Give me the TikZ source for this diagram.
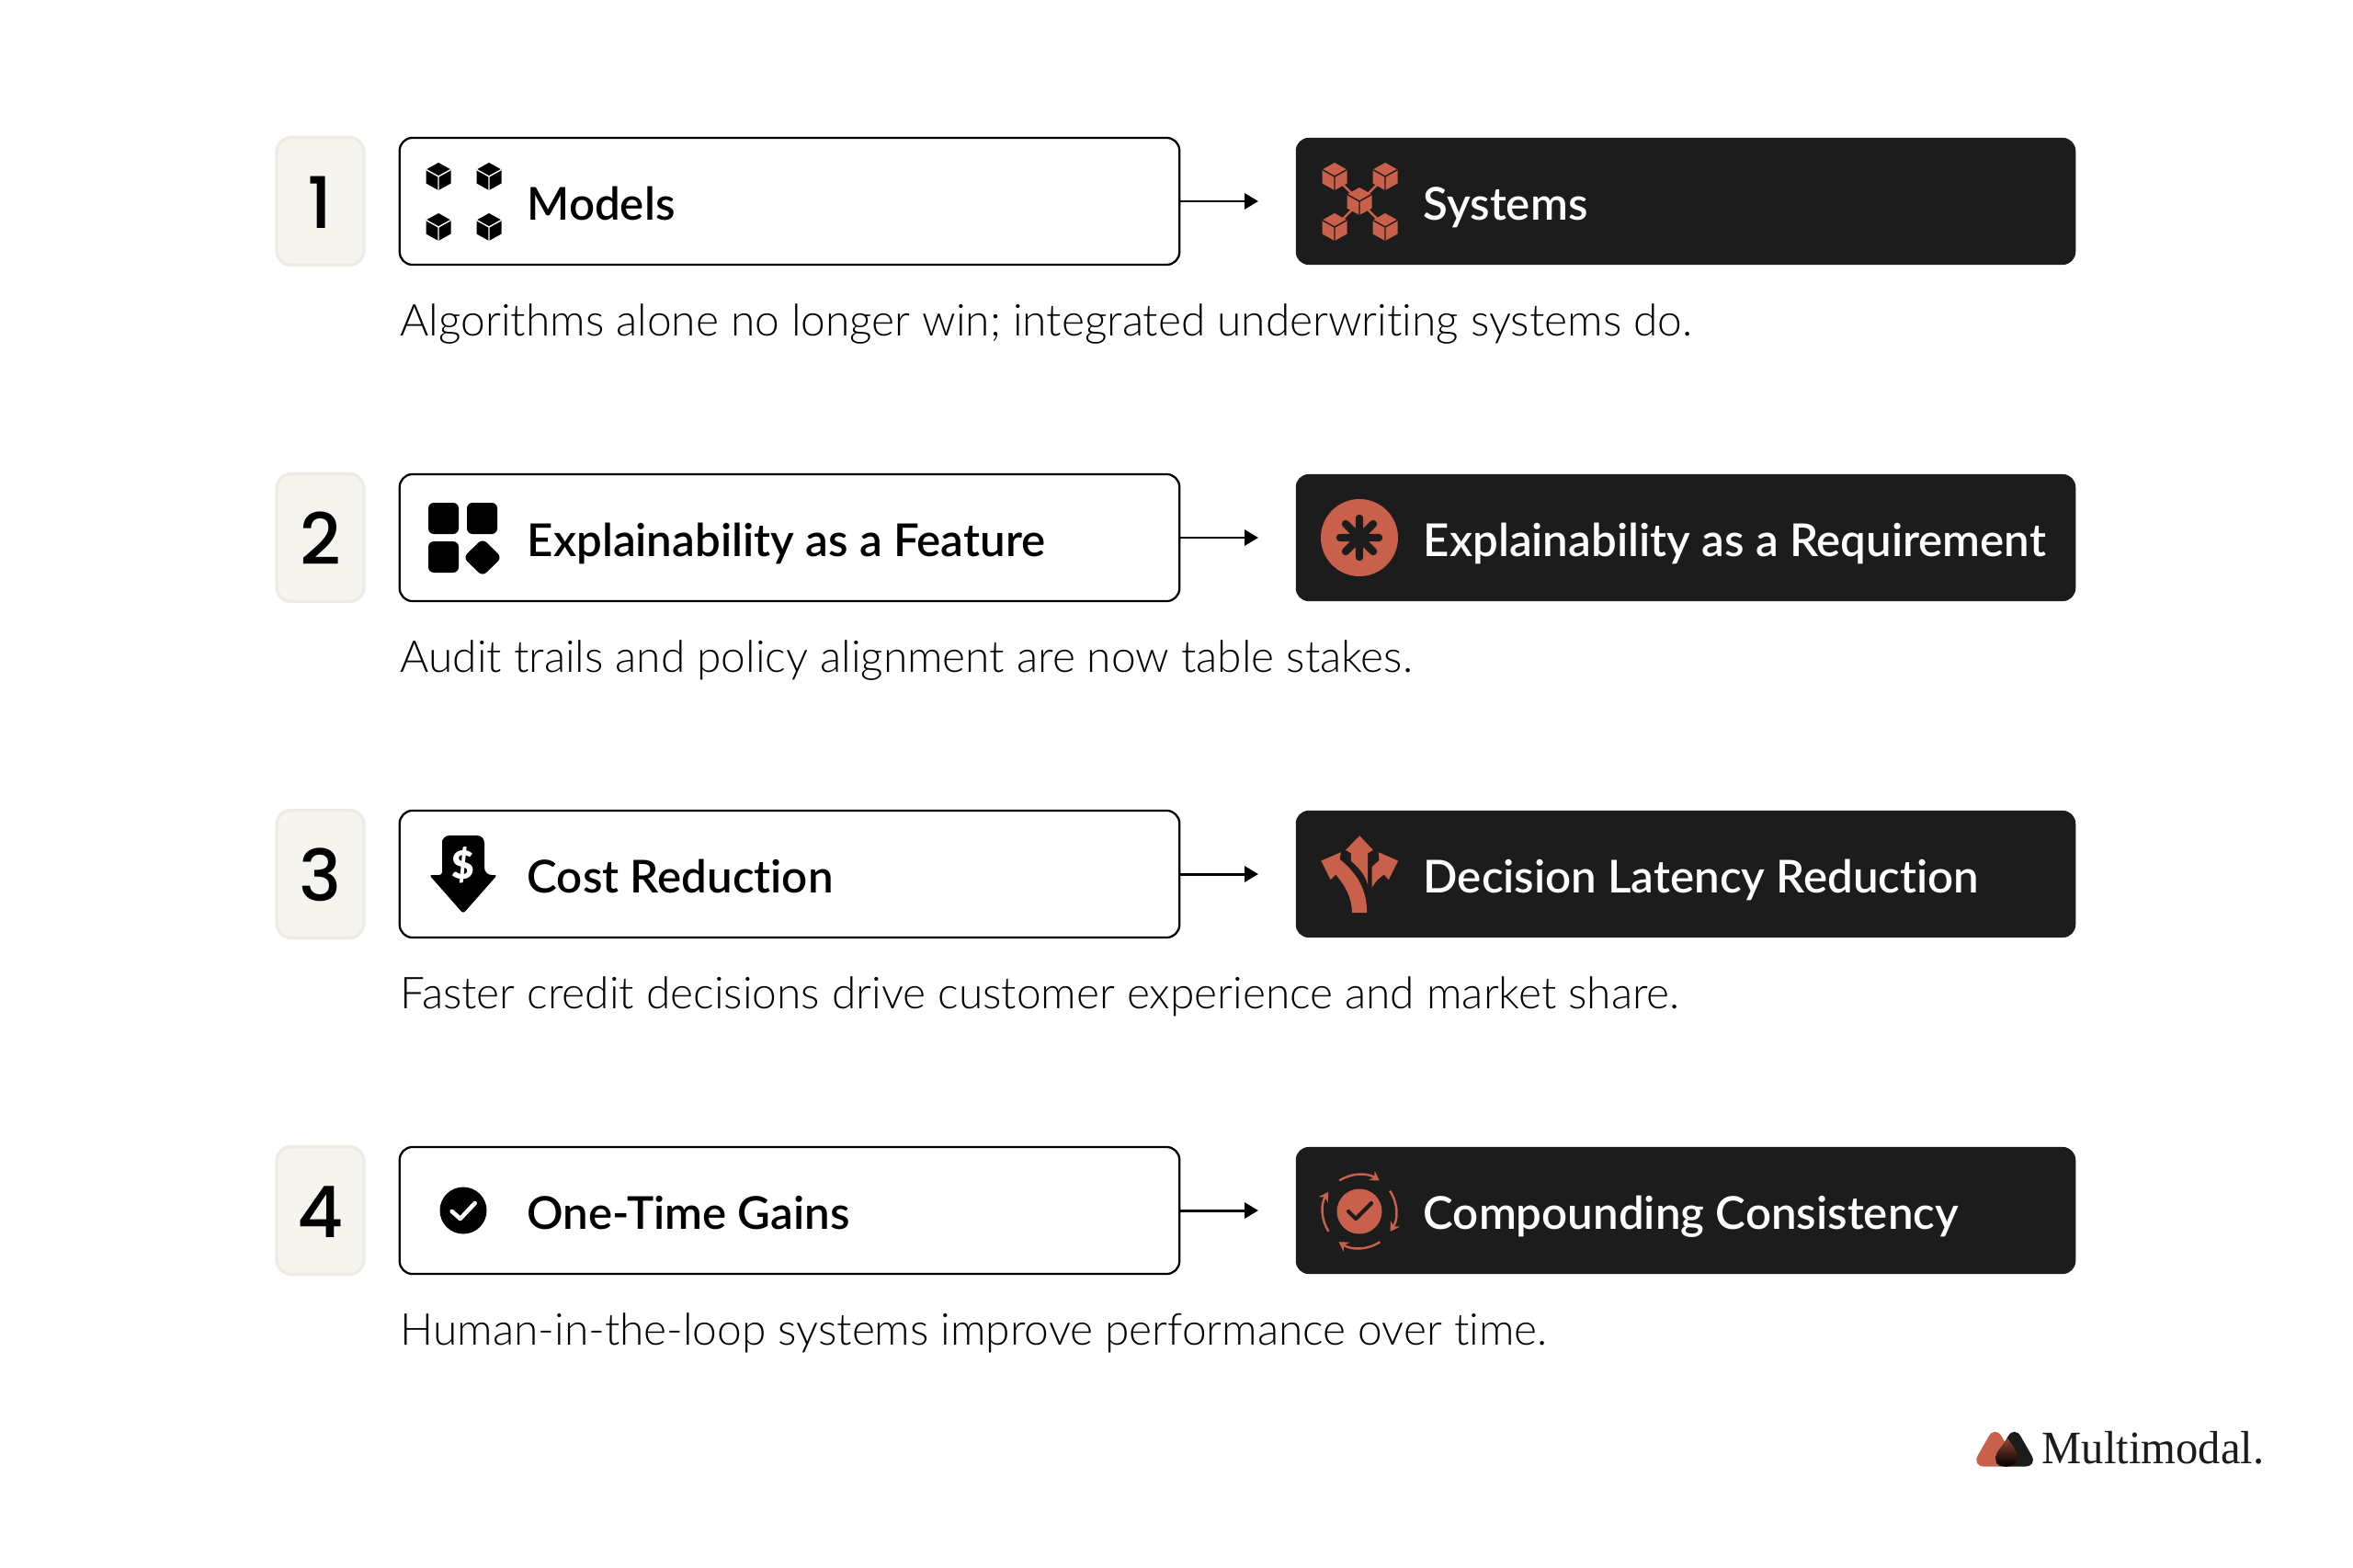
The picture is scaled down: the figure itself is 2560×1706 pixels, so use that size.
\documentclass[tikz,border=0pt]{standalone}
\usepackage{fontspec}
\usetikzlibrary{arrows.meta}
\setmainfont{Lato}
\newfontfamily\descfont[Ligatures=NoCommon]{Lato Light}
\newfontfamily\headfont[Ligatures=NoCommon]{Lato Semibold}
\newfontfamily\numfont{Poppins Medium}
\newfontfamily\logofont[FakeStretch=0.96]{Liberation Serif}
\definecolor{inkdark}{HTML}{1C1C1C}
\definecolor{clay}{HTML}{C8604C}
\definecolor{paper}{HTML}{F5F4EF}
\definecolor{paperline}{HTML}{ECEBE4}
% one small cube: x, y, body colour, edge colour
\newcommand{\cubeicon}[4]{%
  \fill[#3] (#1,#2-15) -- (#1+13.5,#2-7.5) -- (#1+13.5,#2+7.5) -- (#1,#2+15) -- (#1-13.5,#2+7.5) -- (#1-13.5,#2-7.5) -- cycle;
  \draw[#4, line width=0.4pt] (#1-13.5,#2-7.5) -- (#1,#2) -- (#1+13.5,#2-7.5) (#1,#2) -- (#1,#2+15);
}
\begin{document}
\begin{tikzpicture}[
  x=0.01cm, y=-0.01cm,
  >={Triangle[length=1.5mm,width=1.7mm]},
  numbox/.style={rounded corners=1.6mm, draw=paperline, line width=0.9pt, fill=paper,
                 minimum width=9.5mm, minimum height=13.9mm, inner sep=0pt, text height=17pt, text depth=0pt,
                 font=\numfont\fontsize{22}{24}\selectfont, text=black},
  lightbox/.style={rounded corners=1.4mm, draw=black, line width=0.65pt, fill=white,
                   minimum width=84.8mm, minimum height=13.8mm, inner sep=0pt},
  darkbox/.style={rounded corners=1.4mm, fill=inkdark,
                  minimum width=84.8mm, minimum height=13.8mm, inner sep=0pt},
  headtxt/.style={anchor=base west, inner sep=0pt, font=\headfont\fontsize{14}{16}\selectfont},
  lighthead/.style={headtxt, text=black},
  darkhead/.style={headtxt, text=white},
  desc/.style={anchor=base west, inner sep=0pt, font=\descfont\fontsize{13.6}{16}\selectfont, text=black},
  flow/.style={->, line width=0.85pt, draw=black, shorten >=4mm},
  cyclearc/.style={clay, line width=0.7pt, -{Stealth[length=1mm,width=1.2mm]}},
]
\useasboundingbox (0,0) rectangle (2560,1706);
\fill[white] (0,0) rectangle (2560,1706);

% ---- Row 1 : models -> systems ----
\node[numbox]   (num1)  at (348.5,219) {1};
\node[lightbox] (left1) at (859,219)   {};
\node[darkbox]  (right1) at (1834,219) {};
\node[lighthead] (lefttxt1)  at (573,239.5)  {Models};
\node[darkhead]  (righttxt1) at (1548,239.5) {Systems};
\node[desc]      (desc1)     at (435,366)  {Algorithms alone no longer win; integrated underwriting systems do.};
\draw[flow] (left1) -- (right1);
\cubeicon{477}{192}{black}{white}
\cubeicon{532}{192}{black}{white}
\cubeicon{477}{247}{black}{white}
\cubeicon{532}{247}{black}{white}
\draw[clay, line width=0.7pt] (1452,192) -- (1507,247) (1507,192) -- (1452,247);
\cubeicon{1452}{192}{clay}{inkdark}
\cubeicon{1507}{192}{clay}{inkdark}
\cubeicon{1479}{219}{clay}{inkdark}
\cubeicon{1452}{247}{clay}{inkdark}
\cubeicon{1507}{247}{clay}{inkdark}

% ---- Row 2 : explainability ----
\node[numbox]   (num2)  at (348.5,585) {2};
\node[lightbox] (left2) at (859,585)   {};
\node[darkbox]  (right2) at (1834,585) {};
\node[lighthead] (lefttxt2)  at (573,605.5)  {Explainability as a Feature};
\node[darkhead]  (righttxt2) at (1548,605.5) {Explainability as a Requirement};
\node[desc]      (desc2)     at (435,731)  {Audit trails and policy alignment are now table stakes.};
\draw[flow] (left2) -- (right2);
\fill[black, rounded corners=0.6mm] (466,547) rectangle (499,581);
\fill[black, rounded corners=0.6mm] (508,547) rectangle (541,581);
\fill[black, rounded corners=0.6mm] (466,589) rectangle (499,623);
\fill[black, rounded corners=0.6mm] (525,586) -- (546,606.5) -- (525,627) -- (504,606.5) -- cycle;
\fill[clay] (1479,585) circle (42);
\draw[inkdark, line width=2.4pt, line cap=round]
  (1479,564) -- (1479,606) (1458,585) -- (1500,585) (1464,570) -- (1494,600) (1494,570) -- (1464,600);

% ---- Row 3 : cost vs latency ----
\node[numbox]   (num3)  at (348.5,951) {3};
\node[lightbox] (left3) at (859,951)   {};
\node[darkbox]  (right3) at (1834,951) {};
\node[lighthead] (lefttxt3)  at (573,971.5)  {Cost Reduction};
\node[darkhead]  (righttxt3) at (1548,971.5) {Decision Latency Reduction};
\node[desc]      (desc3)     at (435,1097) {Faster credit decisions drive customer experience and market share.};
\draw[flow] (left3) -- (right3);
\fill[black, rounded corners=0.3mm] (481,952) -- (481,916) [rounded corners=0.8mm] -- (481,909) -- (527,909) -- (527,952)
  [rounded corners=0.3mm] -- (541,952) -- (504,994) -- (467,952) -- cycle;
\node[text=white, inner sep=0pt, font=\headfont\bfseries\fontsize{12}{14}\selectfont] (dollar) at (504,941) {\$};
\begin{scope}[shift={(1410,880)}, x=0.00333cm, y=-0.00333cm]
  \fill[clay] (183,340) .. controls (183,290) and (160,250) .. (130,215) -- (113,232) -- (82,170) -- (147,142)
    -- (143,165) .. controls (205,215) and (232,270) .. (232,340) -- cycle;
  \fill[clay] (208,88) -- (252,135) -- (235,145) -- (235,250) .. controls (225,210) and (200,190) .. (180,170) -- (180,145) -- (162,135) -- cycle;
  \fill[clay] (334,170) -- (303,232) -- (288,215) .. controls (272,225) and (258,240) .. (248,258)
    -- (248,190) -- (272,168) -- (270,142) -- cycle;
\end{scope}

% ---- Row 4 : gains vs consistency ----
\node[numbox]   (num4)  at (348.5,1317) {4};
\node[lightbox] (left4) at (859,1317)   {};
\node[darkbox]  (right4) at (1834,1317) {};
\node[lighthead] (lefttxt4)  at (573,1337.5)  {One-Time Gains};
\node[darkhead]  (righttxt4) at (1548,1337.5) {Compounding Consistency};
\node[desc]      (desc4)     at (435,1463)  {Human-in-the-loop systems improve performance over time.};
\draw[flow] (left4) -- (right4);
\fill[black] (504,1317) circle (25.5);
\draw[white, line width=1.3pt, line cap=round, line join=round] (491.7,1318) -- (500.7,1326) -- (516.7,1309);
\fill[clay] (1479,1318) circle (24.5);
\draw[inkdark, line width=1.2pt, line cap=round, line join=round] (1467,1318) -- (1475,1326) -- (1492,1309);
\draw[cyclearc] (1479,1318) ++(-123:40) arc[start angle=-123, end angle=-57, radius=40];
\draw[cyclearc] (1479,1318) ++(-34:40) arc[start angle=-34, end angle=33, radius=40];
\draw[cyclearc] (1479,1318) ++(56:40) arc[start angle=56, end angle=124, radius=40];
\draw[cyclearc] (1479,1318) ++(147:40) arc[start angle=147, end angle=212, radius=40];

% ---- Logo ----
\begin{scope}[shift={(2130,1530)}, x=0.00333cm, y=-0.00333cm]
  \fill[clay, rounded corners=1.4mm] (122,62) -- (200,197) -- (45,197) -- cycle;
  \fill[inkdark, rounded corners=1.4mm] (185,62) -- (262,197) -- (108,197) -- cycle;
  \shade[top color=clay!70!black, bottom color=black] (163,105) .. controls (180,130) and (196,150) .. (196,165)
    .. controls (196,185) and (180,197) .. (160,197) .. controls (140,197) and (124,185) .. (124,165) .. controls (124,150) and (146,130) .. (163,105) -- cycle;
\end{scope}
\node[anchor=base west, inner sep=0pt, text=inkdark, font=\logofont\fontsize{14.4}{17}\selectfont] (logotxt) at (2221,1592) {Multimodal.};
\end{tikzpicture}
\end{document}
